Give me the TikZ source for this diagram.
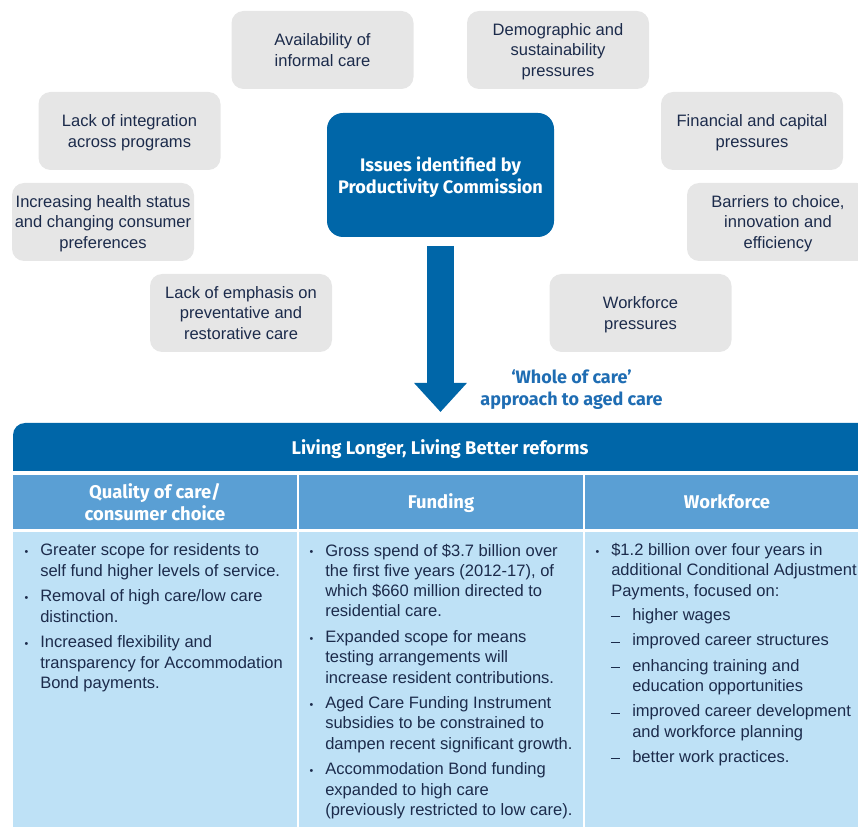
\documentclass[tikz,border=0pt]{standalone}
\usepackage{fontspec}
\usepackage{graphicx}
\setmainfont{Liberation Sans}
\newfontfamily\hfont{Fira Sans}
\usetikzlibrary{arrows.meta}
\definecolor{dblue}{HTML}{0066A8}
\definecolor{mblue}{HTML}{5A9FD4}
\definecolor{lblue}{HTML}{BEE1F6}
\definecolor{bgray}{HTML}{E6E6E6}
\definecolor{txt}{HTML}{1C2B4B}
\definecolor{lbl}{HTML}{1F6DB3}
\newcommand{\bodyfont}{\fontsize{12.4}{15.23}\selectfont}
\newcommand{\hdfont}{\hfont\bfseries\fontsize{13.8}{16.8}\selectfont}
\newcommand{\bul}{\llap{\raisebox{0.4pt}{\fontsize{8}{8}\selectfont\textbullet}\hspace{9pt}}}
\newcommand{\dsh}{\llap{\rule[2.2pt]{7pt}{0.8pt}\hspace{9pt}}}
\begin{document}
\begin{tikzpicture}[x=0.75pt,y=-0.75pt,
  graybox/.style={fill=bgray, rounded corners=9pt, minimum width=136.5pt,
    minimum height=58.5pt, align=center, font=\bodyfont, text=txt, inner sep=0pt,
    text depth=-2pt},
  mainbox/.style={fill=dblue, rounded corners=12pt, minimum width=170.25pt,
    minimum height=93pt, inner sep=0pt},
  colhead/.style={fill=mblue, inner sep=0pt, minimum height=40.5pt},
  colbody/.style={fill=lblue, inner sep=0pt, minimum height=231pt},
  htext/.style={font=\hdfont, text=white, align=center, inner sep=0pt, anchor=base},
  itm/.style={anchor=base west, align=left, inner sep=0pt, font=\bodyfont, text=txt},
  bigarrow/.style={draw=dblue, line width=20.25pt, -{Triangle[width=38.25pt,length=21.75pt]}}
]
\useasboundingbox (0,0) rectangle (858,827);

% issue boxes
\node[graybox] (avail)  at (322.5,50)  {Availability of\\informal care};
\node[graybox] (demo)   at (558,50)    {Demographic and\\sustainability\\pressures};
\node[graybox] (integ)  at (129.5,131) {Lack of integration\\across programs};
\node[graybox] (fin)    at (752,131)   {Financial and capital\\pressures};
\node[graybox] (health) at (103,222)   {Increasing health status\\and changing consumer\\preferences};
\node[graybox] (barr)   at (778,222)   {Barriers to choice,\\innovation and\\efficiency};
\node[graybox] (emph)   at (241,313)   {Lack of emphasis on\\preventative and\\restorative care};
\node[graybox] (work)   at (640.5,313) {Workforce\\pressures};

% central box
\node[mainbox] (main) at (440.5,175) {};
\node[htext, font=\hfont\bfseries\fontsize{13.6}{16.9}\selectfont] (maint) at (440.5,194) {Issues identified by\\Productivity Commission};

% reforms header bar
\fill[dblue] (13,471) [rounded corners=9pt] -- (13,423) -- (880,423) [sharp corners] -- (880,471) -- cycle;
\node[htext] (hdr) at (440,455) {Living Longer, Living Better reforms};

% arrow
\coordinate (arS) at (440.5,246);
\coordinate (arE) at (440.5,412);
\draw[bigarrow] (arS) -- (arE);
\node[htext, text=lbl, font=\hfont\bfseries\fontsize{13.5}{17}\selectfont] (lab) at (571.5,406) {‘Whole of care’\\approach to aged care};

% column headers
\node[colhead, minimum width=213pt] (h1) at (155,502) {};
\node[colhead, minimum width=213pt] (h2) at (441,502) {};
\node[colhead, minimum width=221.25pt] (h3) at (732.5,502) {};
\node[htext] (h1t) at (155,520.7) {Quality of care/\\consumer choice};
\node[htext] (h2t) at (441,509) {Funding};
\node[htext] (h3t) at (727,509) {Workforce};

% column bodies
\node[colbody, minimum width=213pt] (b1) at (155,686) {};
\node[colbody, minimum width=213pt] (b2) at (441,686) {};
\node[colbody, minimum width=221.25pt] (b3) at (732.5,686) {};

% column 1 (anchor = baseline of last line)
\node[itm] (c1a) at (40,576.3) {\bul Greater scope for residents to\\self fund higher levels of service.};
\node[itm] (c1b) at (40,622.2) {\bul Removal of high care/low care\\distinction.};
\node[itm] (c1c) at (40,688.4) {\bul Increased flexibility and\\transparency for Accommodation\\Bond payments.};

% column 2
\node[itm] (c2a) at (325,617)   {\bul Gross spend of \$3.7 billion over\\the first five years (2012-17), of\\which \$660 million directed to\\residential care.};
\node[itm] (c2b) at (325,683.2) {\bul Expanded scope for means\\testing arrangements will\\increase resident contributions.};
\node[itm] (c2c) at (325,749.2) {\bul Aged Care Funding Instrument\\subsidies to be constrained to\\dampen recent significant growth.};
\node[itm] (c2d) at (325,815.5) {\bul Accommodation Bond funding\\expanded to high care\\(previously restricted to low care).};

% column 3
\node[itm] (c3a) at (611,596.3) {\bul \$1.2 billion over four years in\\additional Conditional Adjustment\\Payments, focused on:};
\node[itm] (d1) at (632,620)   {\dsh higher wages};
\node[itm] (d2) at (632,645.7) {\dsh improved career structures};
\node[itm] (d3) at (632,691.5) {\dsh enhancing training and\\education opportunities};
\node[itm] (d4) at (632,737)   {\dsh improved career development\\and workforce planning};
\node[itm] (d5) at (632,762.3) {\dsh better work practices.};
\end{tikzpicture}
\end{document}
